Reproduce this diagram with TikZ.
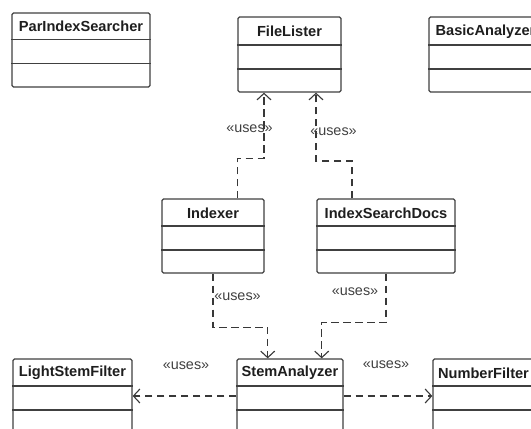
\documentclass[tikz,border=0pt]{standalone}
\usepackage{fontspec}
\setmainfont{Liberation Sans}
\usetikzlibrary{arrows.meta,calc}

\definecolor{boxline}{HTML}{404040}
\definecolor{inkdark}{HTML}{1E1E1E}
\definecolor{linkline}{HTML}{383838}

\tikzset{
  classbox/.style={draw=boxline, line width=1.3pt, rounded corners=1.5pt,
    inner sep=0pt, fill=white},
  divider/.style={draw=boxline, line width=1.3pt},
  classname/.style={font=\fontsize{14.6}{16}\selectfont\bfseries,
    text=inkdark, inner sep=0pt, anchor=center},
  uses/.style={draw=linkline, line width=1.2pt, dash pattern=on 7.5pt off 4.5pt,
    -{Straight Barb[length=6.5pt, width=14pt, line width=1.1pt]}},
  stereo/.style={font=\fontsize{14.4}{16}\selectfont, text=inkdark!85,
    inner sep=0pt}
}

% \umlclass{name}{x1}{y1}{x2}{y2}{divider1}{divider2}{title}
\newcommand{\umlclass}[8]{%
  \node[classbox, minimum width={#4-#2}, minimum height={#5-#3}]
    (#1) at ({(#2+#4)/2},{(#3+#5)/2}) {};
  \draw[divider] (#1.west |- 0,#6) -- (#1.east |- 0,#6);
  \draw[divider] (#1.west |- 0,#7) -- (#1.east |- 0,#7);
  \node[classname] (#1-t) at ({(#2+#4)/2},{(#3+#6)/2+0.5}) {#8};
}

\begin{document}
\begin{tikzpicture}[x=1pt, y=-1pt]
  \useasboundingbox (0,0) rectangle (531,429);
  \clip (0,0) rectangle (531,429);

  % classes
  \umlclass{pis}{12}{13}{150}{87}{39.5}{63.5}{ParIndexSearcher}
  \umlclass{fl}{238}{17}{341}{92}{45}{69}{FileLister}
  \umlclass{ba}{429}{17}{542}{92}{45}{69}{BasicAnalyzer}
  \umlclass{idx}{162}{199}{264}{273}{226}{250}{Indexer}
  \umlclass{isd}{317}{199}{455}{273}{226}{250}{IndexSearchDocs}
  \umlclass{lsf}{13}{359}{132}{440}{386}{410}{LightStemFilter}
  \umlclass{sa}{237}{359}{343}{440}{386}{410}{StemAnalyzer}
  \umlclass{nf}{433}{359}{534}{440}{386}{410}{NumberFilter}

  \coordinate (row) at (0,396);

  % dependencies
  \draw[uses] ([xshift=24.7pt]idx.north) -- ++(0,-40) -| ([xshift=-25.5pt]fl.south);
  \draw[uses] ([xshift=-34pt]isd.north) -- ++(0,-37.3) -| ([xshift=26.5pt]fl.south);
  \draw[uses] (idx.south) -- ++(0,53.7) -| ([xshift=-22.3pt]sa.north);
  \draw[uses] (isd.south) -- ++(0,48.7) -| ([xshift=31.7pt]sa.north);
  \draw[uses] (sa.west |- row) -- (lsf.east |- row);
  \draw[uses] (sa.east |- row) -- (nf.west |- row);

  % stereotypes
  \node[stereo] (s1) at (249.5,129) {«uses»};
  \node[stereo] (s2) at (333.5,131.7) {«uses»};
  \node[stereo] (s3) at (237.5,296.7) {«uses»};
  \node[stereo] (s4) at (355,291.7) {«uses»};
  \node[stereo] (s5) at (186,366) {«uses»};
  \node[stereo] (s6) at (386,365) {«uses»};
\end{tikzpicture}
\end{document}
